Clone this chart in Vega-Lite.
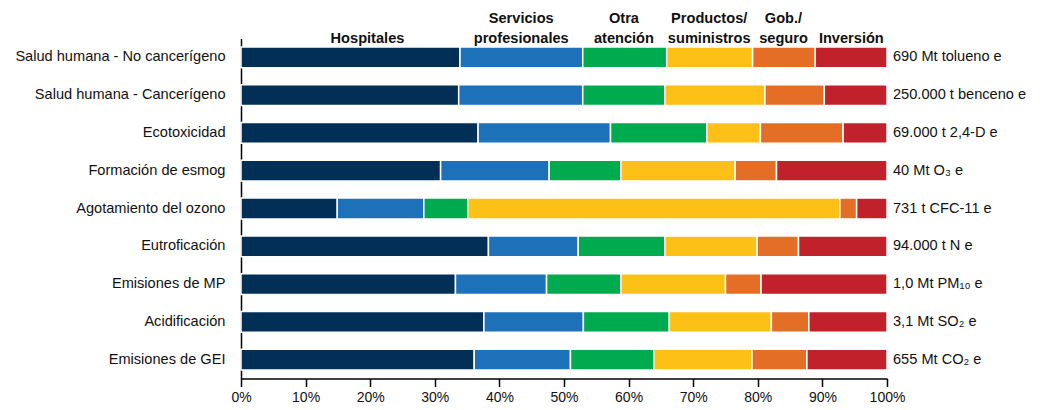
{
  "$schema": "https://vega.github.io/schema/vega-lite/v6.json",
  "width": 646,
  "height": 340,
  "autosize": {"type": "none"},
  "padding": {"left": 241, "top": 38.5, "right": 155, "bottom": 31.5},
  "background": "white",
  "config": {"font": "Liberation Sans", "view": {"stroke": null}, "axis": {"grid": false}},
  "datasets": {
    "seg": [
      {"cat": "Salud humana - No cancerígeno", "seg": "Hospitales", "pct": 33.9},
      {"cat": "Salud humana - No cancerígeno", "seg": "Servicios profesionales", "pct": 19.0},
      {"cat": "Salud humana - No cancerígeno", "seg": "Otra atención", "pct": 13.0},
      {"cat": "Salud humana - No cancerígeno", "seg": "Productos/suministros", "pct": 13.3},
      {"cat": "Salud humana - No cancerígeno", "seg": "Gob./seguro", "pct": 9.7},
      {"cat": "Salud humana - No cancerígeno", "seg": "Inversión", "pct": 11.1},
      {"cat": "Salud humana - Cancerígeno", "seg": "Hospitales", "pct": 33.7},
      {"cat": "Salud humana - Cancerígeno", "seg": "Servicios profesionales", "pct": 19.2},
      {"cat": "Salud humana - Cancerígeno", "seg": "Otra atención", "pct": 12.7},
      {"cat": "Salud humana - Cancerígeno", "seg": "Productos/suministros", "pct": 15.5},
      {"cat": "Salud humana - Cancerígeno", "seg": "Gob./seguro", "pct": 9.2},
      {"cat": "Salud humana - Cancerígeno", "seg": "Inversión", "pct": 9.7},
      {"cat": "Ecotoxicidad", "seg": "Hospitales", "pct": 36.7},
      {"cat": "Ecotoxicidad", "seg": "Servicios profesionales", "pct": 20.5},
      {"cat": "Ecotoxicidad", "seg": "Otra atención", "pct": 14.9},
      {"cat": "Ecotoxicidad", "seg": "Productos/suministros", "pct": 8.3},
      {"cat": "Ecotoxicidad", "seg": "Gob./seguro", "pct": 12.8},
      {"cat": "Ecotoxicidad", "seg": "Inversión", "pct": 6.8},
      {"cat": "Formación de esmog", "seg": "Hospitales", "pct": 30.9},
      {"cat": "Formación de esmog", "seg": "Servicios profesionales", "pct": 16.8},
      {"cat": "Formación de esmog", "seg": "Otra atención", "pct": 11.1},
      {"cat": "Formación de esmog", "seg": "Productos/suministros", "pct": 17.7},
      {"cat": "Formación de esmog", "seg": "Gob./seguro", "pct": 6.4},
      {"cat": "Formación de esmog", "seg": "Inversión", "pct": 17.1},
      {"cat": "Agotamiento del ozono", "seg": "Hospitales", "pct": 14.9},
      {"cat": "Agotamiento del ozono", "seg": "Servicios profesionales", "pct": 13.4},
      {"cat": "Agotamiento del ozono", "seg": "Otra atención", "pct": 6.8},
      {"cat": "Agotamiento del ozono", "seg": "Productos/suministros", "pct": 57.6},
      {"cat": "Agotamiento del ozono", "seg": "Gob./seguro", "pct": 2.6},
      {"cat": "Agotamiento del ozono", "seg": "Inversión", "pct": 4.7},
      {"cat": "Eutroficación", "seg": "Hospitales", "pct": 38.3},
      {"cat": "Eutroficación", "seg": "Servicios profesionales", "pct": 13.9},
      {"cat": "Eutroficación", "seg": "Otra atención", "pct": 13.4},
      {"cat": "Eutroficación", "seg": "Productos/suministros", "pct": 14.3},
      {"cat": "Eutroficación", "seg": "Gob./seguro", "pct": 6.4},
      {"cat": "Eutroficación", "seg": "Inversión", "pct": 13.7},
      {"cat": "Emisiones de MP", "seg": "Hospitales", "pct": 33.2},
      {"cat": "Emisiones de MP", "seg": "Servicios profesionales", "pct": 14.1},
      {"cat": "Emisiones de MP", "seg": "Otra atención", "pct": 11.5},
      {"cat": "Emisiones de MP", "seg": "Productos/suministros", "pct": 16.2},
      {"cat": "Emisiones de MP", "seg": "Gob./seguro", "pct": 5.5},
      {"cat": "Emisiones de MP", "seg": "Inversión", "pct": 19.5},
      {"cat": "Acidificación", "seg": "Hospitales", "pct": 37.6},
      {"cat": "Acidificación", "seg": "Servicios profesionales", "pct": 15.4},
      {"cat": "Acidificación", "seg": "Otra atención", "pct": 13.3},
      {"cat": "Acidificación", "seg": "Productos/suministros", "pct": 15.8},
      {"cat": "Acidificación", "seg": "Gob./seguro", "pct": 5.8},
      {"cat": "Acidificación", "seg": "Inversión", "pct": 12.1},
      {"cat": "Emisiones de GEI", "seg": "Hospitales", "pct": 36.1},
      {"cat": "Emisiones de GEI", "seg": "Servicios profesionales", "pct": 14.9},
      {"cat": "Emisiones de GEI", "seg": "Otra atención", "pct": 12.9},
      {"cat": "Emisiones de GEI", "seg": "Productos/suministros", "pct": 15.2},
      {"cat": "Emisiones de GEI", "seg": "Gob./seguro", "pct": 8.5},
      {"cat": "Emisiones de GEI", "seg": "Inversión", "pct": 12.4}
    ],
    "lab": [
      {"cat": "Salud humana - No cancerígeno", "label": "690 Mt tolueno e"},
      {"cat": "Salud humana - Cancerígeno", "label": "250.000 t benceno e"},
      {"cat": "Ecotoxicidad", "label": "69.000 t 2,4-D e"},
      {"cat": "Formación de esmog", "label": "40 Mt O₃ e"},
      {"cat": "Agotamiento del ozono", "label": "731 t CFC-11 e"},
      {"cat": "Eutroficación", "label": "94.000 t N e"},
      {"cat": "Emisiones de MP", "label": "1,0 Mt PM₁₀ e"},
      {"cat": "Acidificación", "label": "3,1 Mt SO₂ e"},
      {"cat": "Emisiones de GEI", "label": "655 Mt CO₂ e"}
    ]
  },
  "layer": [
    {
      "data": {"name": "seg"},
      "transform": [
        {"calculate": "indexof(['Hospitales', 'Servicios profesionales', 'Otra atención', 'Productos/suministros', 'Gob./seguro', 'Inversión'], datum.seg)", "as": "k"}
      ],
      "mark": {"type": "bar", "stroke": "white", "strokeWidth": 1.5},
      "encoding": {
        "y": {
          "field": "cat", "type": "nominal",
          "sort": ["Salud humana - No cancerígeno", "Salud humana - Cancerígeno", "Ecotoxicidad", "Formación de esmog", "Agotamiento del ozono", "Eutroficación", "Emisiones de MP", "Acidificación", "Emisiones de GEI"],
          "scale": {"paddingInner": 0.45, "paddingOuter": 0.225},
          "axis": {"title": null, "ticks": false, "domain": true, "domainColor": "#000", "domainWidth": 1.5, "labelFontSize": 14.6, "labelColor": "#111", "labelPadding": 16, "labelLimit": 400}
        },
        "x": {
          "field": "pct", "type": "quantitative", "stack": "zero",
          "scale": {"domain": [0, 100], "nice": false},
          "axis": {"orient": "bottom", "title": null, "values": [0, 10, 20, 30, 40, 50, 60, 70, 80, 90, 100], "labelExpr": "datum.value + '%'", "labelFlush": false, "labelBound": false, "labelOverlap": false, "tickSize": 8, "tickWidth": 1.5, "tickColor": "#000", "domainColor": "#000", "domainWidth": 1.5, "labelFontSize": 14, "labelColor": "#111", "labelPadding": 4}
        },
        "color": {
          "field": "seg", "type": "nominal",
          "scale": {"domain": ["Hospitales", "Servicios profesionales", "Otra atención", "Productos/suministros", "Gob./seguro", "Inversión"], "range": ["#012f55", "#1c71b8", "#00ab4f", "#fdc016", "#e46e26", "#c0212a"]},
          "legend": null
        },
        "order": {"field": "k", "type": "quantitative", "sort": "ascending"}
      }
    },
    {
      "data": {"name": "lab"},
      "mark": {"type": "text", "align": "left", "baseline": "middle", "dx": 6, "fontSize": 14.6, "color": "#111"},
      "encoding": {
        "x": {
          "datum": 100, "type": "quantitative",
          "axis": {"orient": "top", "title": null, "values": [19.5, 43.3, 59.2, 72.4, 83.9, 94.4], "labelExpr": "datum.value < 30 ? ['', 'Hospitales'] : datum.value < 50 ? ['Servicios', 'profesionales'] : datum.value < 65 ? ['Otra', 'atención'] : datum.value < 78 ? ['Productos/', 'suministros'] : datum.value < 90 ? ['Gob./', 'seguro'] : ['', 'Inversión']", "domain": false, "ticks": false, "labelFlush": false, "labelOverlap": false, "labelBound": false, "labelFontSize": 14.6, "labelFontWeight": "bold", "labelColor": "#111", "labelLineHeight": 19.5, "labelBaseline": "bottom", "labelPadding": 13, "zindex": 1}
        },
        "y": {
          "field": "cat", "type": "nominal",
          "sort": ["Salud humana - No cancerígeno", "Salud humana - Cancerígeno", "Ecotoxicidad", "Formación de esmog", "Agotamiento del ozono", "Eutroficación", "Emisiones de MP", "Acidificación", "Emisiones de GEI"]
        },
        "text": {"field": "label"}
      }
    }
  ],
  "resolve": {"axis": {"x": "independent"}}
}
